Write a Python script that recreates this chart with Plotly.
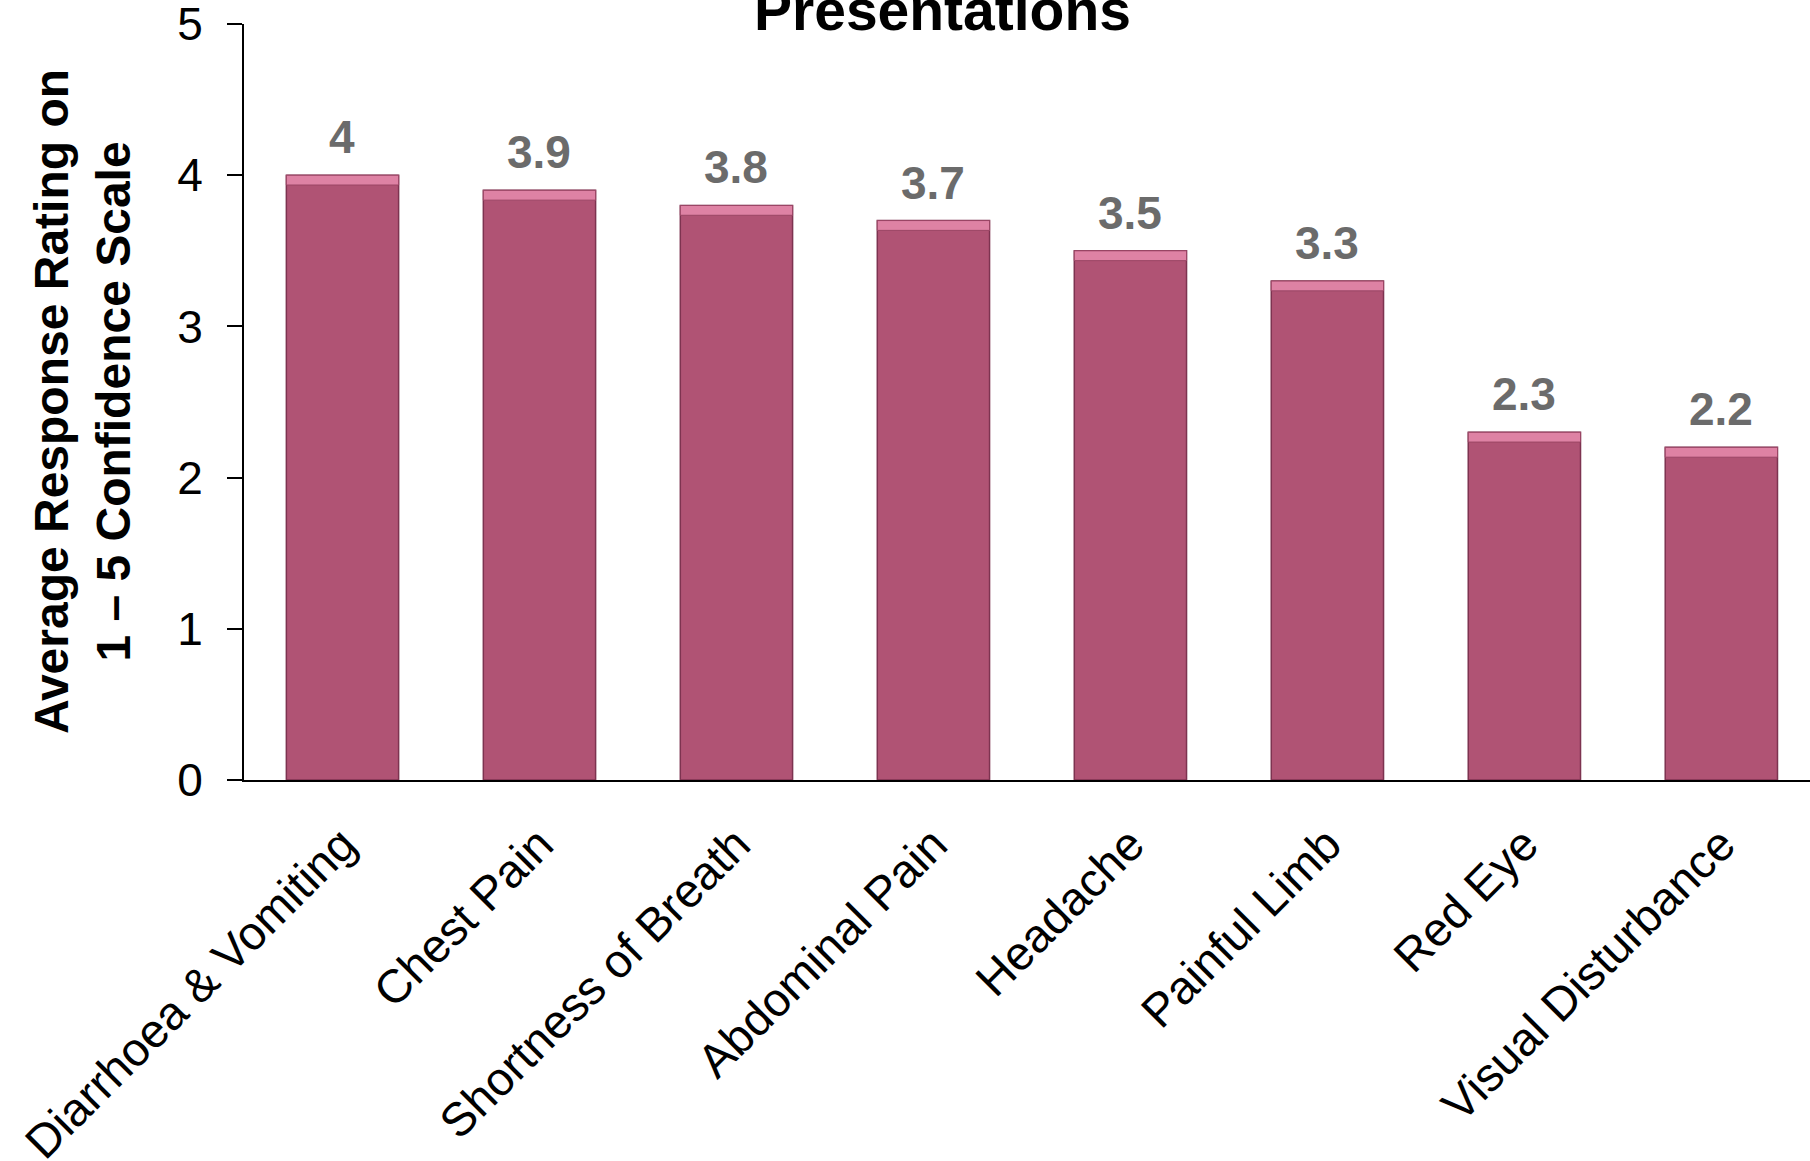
import plotly.graph_objects as go

# Average confidence ratings per presentation
categories = [
    "Diarrhoea & Vomiting",
    "Chest Pain",
    "Shortness of Breath",
    "Abdominal Pain",
    "Headache",
    "Painful Limb",
    "Red Eye",
    "Visual Disturbance",
]
ratings = [4.0, 3.9, 3.8, 3.7, 3.5, 3.3, 2.3, 2.2]
value_labels = ["4", "3.9", "3.8", "3.7", "3.5", "3.3", "2.3", "2.2"]
y_ticks = [0, 1, 2, 3, 4, 5]

FONT = "Arial, 'Liberation Sans', sans-serif"
BAR_W = 0.57
BEVEL = 0.065

fig = go.Figure()

# main bars
fig.add_trace(go.Bar(
    x=categories, y=ratings, width=BAR_W,
    marker=dict(color="#b05374", line=dict(color="#7d3350", width=1.5)),
    hoverinfo="skip",
))
# lighter bevel strip along the top of each bar
fig.add_trace(go.Bar(
    x=categories, y=[BEVEL] * len(ratings),
    base=[v - BEVEL for v in ratings], width=BAR_W,
    marker=dict(color="#de82a4", line=dict(color="#9a4564", width=1)),
    hoverinfo="skip",
))

# value labels above bars
for c, v, t in zip(categories, ratings, value_labels):
    fig.add_annotation(
        x=c, y=v, text=t, showarrow=False,
        xanchor="center", yanchor="bottom", yshift=10,
        font=dict(family=FONT, size=46, color="#6b6b6b", weight="bold"),
    )

# y-axis title (two lines)
fig.add_annotation(
    xref="paper", yref="paper",
    x=(82 - 244) / 1566, y=0.5,
    text="Average Response Rating on<br>1 – 5 Confidence Scale",
    textangle=-90, showarrow=False,
    xanchor="center", yanchor="middle",
    font=dict(family=FONT, size=48, color="black", weight="bold"),
)

# chart title (only its last line falls inside the canvas)
fig.add_annotation(
    xref="paper", yref="paper",
    x=(942 - 244) / 1566, y=(780 - 44) / 756,
    text="Presentations", showarrow=False,
    xanchor="center", yanchor="bottom",
    font=dict(family=FONT, size=57, color="black", weight="bold"),
)

fig.update_layout(
    width=1810, height=1161,
    margin=dict(l=244, r=0, t=24, b=381),
    plot_bgcolor="white", paper_bgcolor="white",
    barmode="overlay", showlegend=False,
    font=dict(family=FONT, color="black"),
)
fig.update_xaxes(
    range=[-0.5, 7.45], tickangle=-45, automargin=False,
    tickfont=dict(family=FONT, size=47, color="black"),
    showline=True, linecolor="black", linewidth=2,
    ticks="", showgrid=False, zeroline=False,
    ticklabelstandoff=16,
)
fig.update_yaxes(
    range=[0, 5], tickvals=y_ticks, automargin=False,
    tickfont=dict(family=FONT, size=46, color="black"),
    showline=True, linecolor="black", linewidth=2,
    ticks="outside", ticklen=15, tickwidth=2, tickcolor="black",
    showgrid=False, zeroline=False,
    ticklabelstandoff=15, ticklabeloverflow="allow",
)

fig.write_html("out.html")
